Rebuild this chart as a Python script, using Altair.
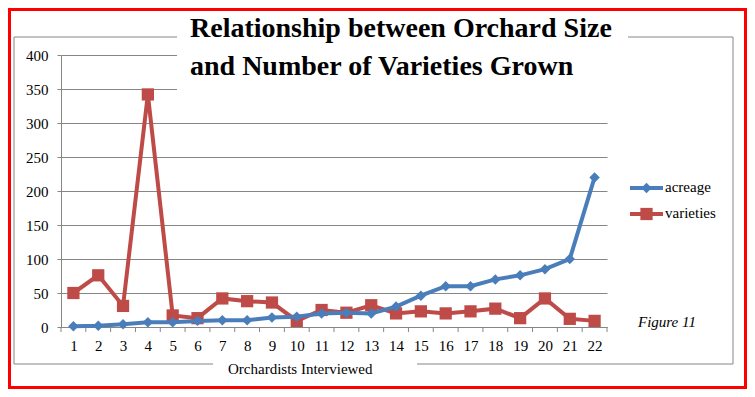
import altair as alt
import pandas as pd

# ---- data ----
orchardists = list(range(1, 23))
acreage = [1, 2, 4, 7, 7, 9, 10, 10, 14, 15, 20, 21, 20, 30, 46, 60, 60, 70, 76, 85, 100, 220]
varieties = [50, 76, 31, 342, 17, 13, 42, 38, 36, 9, 25, 21, 32, 20, 23, 20, 23, 27, 13, 42, 12, 9]
y_ticks = [0, 50, 100, 150, 200, 250, 300, 350, 400]
x_tick_marks = [i + 0.5 for i in range(0, 23)]

title_lines = ["Relationship between Orchard Size", "and Number of Varieties Grown"]
x_title = "Orchardists Interviewed"
figure_label = "Figure 11"
series_names = ["acreage", "varieties"]

BLUE = "#4A7EBB"
RED = "#BE4B48"
GRAY = "#868686"
SERIF = "Liberation Serif"

W, H = 546, 272

df = pd.DataFrame({"o": orchardists, "acreage": acreage, "varieties": varieties})
one = pd.DataFrame({"d": [0]})
ticks_df = pd.DataFrame({"t": x_tick_marks})

xscale = alt.Scale(domain=[0.5, 22.5], nice=False, zero=False)
yscale = alt.Scale(domain=[0, 400], nice=False)

xaxis = alt.Axis(values=orchardists, format="d", grid=False, ticks=False, tickSize=0,
                 domainColor=GRAY, labelFont=SERIF, labelFontSize=15, labelColor="black",
                 labelPadding=11, title=None, labelFlush=False)
yaxis = alt.Axis(values=y_ticks, grid=True, gridColor=GRAY, domainColor=GRAY,
                 tickColor=GRAY, tickSize=4, labelFont=SERIF, labelFontSize=15,
                 labelColor="black", labelPadding=9, title=None)

# frame and decorations
frame = alt.Chart(one).mark_rect(fill="transparent", stroke=GRAY, strokeWidth=1).encode(
    x=alt.value(-47), x2=alt.value(672), y=alt.value(-18), y2=alt.value(309))
border = alt.Chart(one).mark_rect(fill="transparent", stroke="#FF0000", strokeWidth=3).encode(
    x=alt.value(-51.5), x2=alt.value(684.5), y=alt.value(-45.5), y2=alt.value(332.5))
title_box = alt.Chart(one).mark_rect(fill="white").encode(
    x=alt.value(116), x2=alt.value(567), y=alt.value(-43), y2=alt.value(45))
xtitle_box = alt.Chart(one).mark_rect(fill="white").encode(
    x=alt.value(152), x2=alt.value(356), y=alt.value(303), y2=alt.value(322))

t1 = alt.Chart(one).mark_text(text=title_lines[0], font=SERIF, fontSize=28, fontWeight="bold",
                               align="left", baseline="alphabetic", color="black").encode(
    x=alt.value(129), y=alt.value(-18))
t2 = alt.Chart(one).mark_text(text=title_lines[1], font=SERIF, fontSize=28, fontWeight="bold",
                               align="left", baseline="alphabetic", color="black").encode(
    x=alt.value(129), y=alt.value(20))
xt = alt.Chart(one).mark_text(text=x_title, font=SERIF, fontSize=15, align="left",
                               baseline="middle", color="black").encode(
    x=alt.value(167), y=alt.value(314))
fig = alt.Chart(one).mark_text(text=figure_label, font=SERIF, fontSize=15, fontStyle="italic",
                                align="left", baseline="middle", color="black").encode(
    x=alt.value(577), y=alt.value(267))

# x tick marks between categories
xticks = alt.Chart(ticks_df).mark_rule(color=GRAY, strokeWidth=1).encode(
    x=alt.X("t:Q", scale=xscale, axis=xaxis), y=alt.value(H), y2=alt.value(H + 5))

base = alt.Chart(df).encode(x=alt.X("o:Q", scale=xscale, axis=xaxis))

line_a = base.mark_line(color=BLUE, strokeWidth=4,
                        point=alt.OverlayMarkDef(shape="diamond", size=110, filled=True,
                                                 color=BLUE, opacity=1)).encode(
    y=alt.Y("acreage:Q", scale=yscale, axis=yaxis))
line_v = base.mark_line(color=RED, strokeWidth=4,
                        point=alt.OverlayMarkDef(shape="square", size=150, filled=True,
                                                 color=RED, opacity=1)).encode(
    y=alt.Y("varieties:Q", scale=yscale, axis=yaxis))

# legend
leg = []
for i, (name, col, shp, sz) in enumerate(zip(series_names, [BLUE, RED], ["diamond", "square"], [110, 150])):
    yy = 133 + i * 26
    leg.append(alt.Chart(one).mark_rule(color=col, strokeWidth=4).encode(
        x=alt.value(569), x2=alt.value(602), y=alt.value(yy)))
    leg.append(alt.Chart(one).mark_point(shape=shp, size=sz, filled=True, color=col, opacity=1).encode(
        x=alt.value(585.5), y=alt.value(yy)))
    leg.append(alt.Chart(one).mark_text(text=name, font=SERIF, fontSize=15, align="left",
                                        baseline="middle", color="black").encode(
        x=alt.value(604), y=alt.value(yy - 1)))

chart = alt.layer(
    frame, border, title_box, xtitle_box, xticks, line_v, line_a, t1, t2, xt, fig, *leg
).properties(
    width=W, height=H,
    autosize=alt.AutoSizeParams(type="none"),
    padding={"left": 53, "top": 47, "right": 140, "bottom": 62},
    background="white",
).configure_view(stroke=None, clip=False)

chart.save("out.html", embed_options={"renderer": "svg", "actions": False})
